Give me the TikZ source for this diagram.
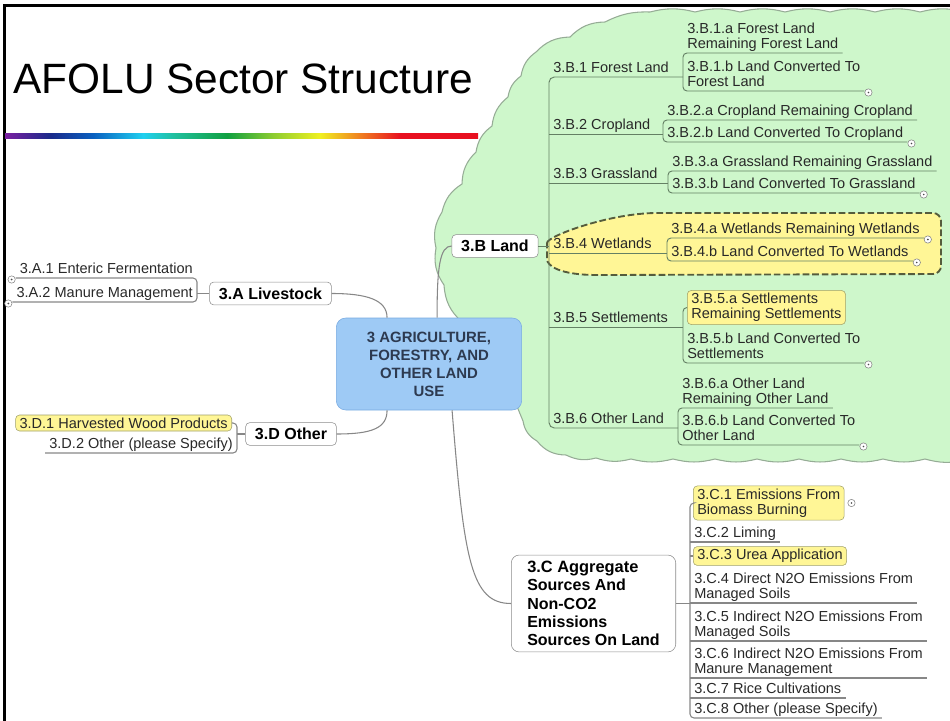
\documentclass[tikz,border=0pt]{standalone}
\usepackage{fontspec}
\setmainfont{Liberation Sans}
\usetikzlibrary{calc}

\definecolor{cloudgreen}{RGB}{206,247,203}
\definecolor{cloudline}{RGB}{150,172,150}
\definecolor{bline}{RGB}{100,128,100}
\definecolor{gline}{RGB}{135,135,135}
\definecolor{yel}{RGB}{255,246,150}
\definecolor{yelline}{RGB}{160,160,105}
\definecolor{dashline}{RGB}{85,92,60}
\definecolor{centreblue}{RGB}{158,202,245}
\definecolor{centreline}{RGB}{120,170,225}
\definecolor{centretext}{RGB}{45,58,80}
\definecolor{txt}{RGB}{40,40,40}
\definecolor{boxline}{RGB}{140,140,140}
% rainbow bar colours
\definecolor{rbpurple}{RGB}{122,31,160}
\definecolor{rbnavy}{RGB}{26,42,138}
\definecolor{rbblue}{RGB}{10,96,192}
\definecolor{rbcyan}{RGB}{32,208,240}
\definecolor{rbteal}{RGB}{32,192,160}
\definecolor{rbgreen}{RGB}{16,160,64}
\definecolor{rblime}{RGB}{140,204,48}
\definecolor{rbyellow}{RGB}{240,240,32}
\definecolor{rborange}{RGB}{240,128,32}
\definecolor{rbred}{RGB}{232,16,32}

\pgfdeclarehorizontalshading{rainbow}{100bp}{%
  color(0bp)=(rbpurple); color(25bp)=(rbpurple); color(29.8bp)=(rbnavy);
  color(34.3bp)=(rbblue); color(39.6bp)=(rbcyan); color(42.8bp)=(rbteal);
  color(48.5bp)=(rbgreen); color(53.3bp)=(rblime); color(58.3bp)=(rbyellow);
  color(62.5bp)=(rborange); color(66.8bp)=(rbred); color(100bp)=(rbred)}

\newcommand\mmleaf{\fontsize{10.9}{11.4}\selectfont}
\newcommand\mmtopic{\fontsize{12}{13.7}\selectfont\bfseries}
\newcommand\mmcentre{\fontsize{11.2}{13.5}\selectfont\bfseries}
\newcommand\mmtitle{\fontsize{31.8}{36}\selectfont}

\tikzset{
  leaf/.style={font=\mmleaf, text=txt, align=left, inner xsep=3pt, inner ysep=0.6pt, text depth=2.4pt},
  yelbox/.style={font=\mmleaf, text=txt, align=left, fill=yel, draw=yelline, rounded corners=3pt, inner xsep=3pt, inner ysep=2pt},
  topic/.style={draw=boxline, fill=white, rounded corners=3pt, font=\mmtopic, text=black, inner xsep=7pt, minimum height=17pt},
  centre/.style={fill=centreblue, draw=centreline, rounded corners=7pt, font=\mmcentre, text=centretext, align=center, minimum width=139pt, minimum height=69pt, inner sep=2pt},
  fold/.style={circle, draw=gray, fill=white, inner sep=0pt, minimum size=5.5pt, line width=0.4pt,
    path picture={\fill[gray!60!black] (path picture bounding box.center) circle (0.7pt);}},
  bconn/.style={draw=bline, line width=0.7pt},
  gconn/.style={draw=gline, line width=0.8pt}
}

\begin{document}
\begin{tikzpicture}[x=0.75pt, y=-0.75pt]
\useasboundingbox (0,0) rectangle (950,721);

% cloud behind the land branch
\filldraw[fill=cloudgreen, draw=cloudline, line width=0.8pt]
  (566,455) to[bend left=25] (537,441) to[bend left=25] (523,421) -- (516,404) -- (462,322)
  to[bend left=22] (444,285) to[bend left=22] (436,248) to[bend left=22] (442,212)
  to[bend left=22] (462,184) to[bend left=22] (476,152) to[bend left=22] (492,126)
  to[bend left=22] (508,97) to[bend left=22] (521,76) to[bend left=22] (536,52)
  to[bend left=22] (570,37) to[bend left=22] (605,22)
  \foreach \x in {650,695,...,965} { to[bend left=14] (\x,12) }
  -- (965,460)
  \foreach \x in {925,883,...,631} { to[bend left=14] (\x,459) }
  to[bend left=16] (596,458) to[bend left=20] (566,455) -- cycle;

% wetlands highlight
\filldraw[fill=yel, draw=dashline, line width=1.4pt, dash pattern=on 5pt off 2.2pt, rounded corners=6pt]
  (547,251) .. controls (547,236) and (610,213) .. (665,213)
  -- (941,213) -- (941,274) -- (605,275)
  .. controls (560,275) and (547,266) .. (547,251) -- cycle;

% slide title and frame
\draw[line width=1.9pt] (4.5,725) -- (4.5,5.3) -- (960,5.3);
\node[anchor=base west, font=\mmtitle, inner sep=0pt] (title) at (13,93) {AFOLU Sector Structure};
\shade[shading=rainbow] (5,133) rectangle (478,138.5);

% centre and main topics
\node[centre] (agri) at (429,364) {3 AGRICULTURE,\\FORESTRY, AND\\OTHER LAND\\USE};
\node[topic] (liv) at (270.5,293.5) {3.A Livestock};
\node[topic] (oth) at (291,434) {3.D Other};
\node[topic] (land) at (495,246) {3.B Land};
\node[topic, align=left, inner xsep=12pt, rounded corners=6pt, minimum height=72.7pt] (agg) at (593.5,603.5)
  {\fontsize{12.3}{13.7}\selectfont 3.C Aggregate\\Sources And\\Non-CO2\\Emissions\\Sources On Land};

% 3.A
\node[leaf, anchor=south east] (enteric) at (197,278) {3.A.1 Enteric Fermentation};
\node[leaf, anchor=south east] (manureMgmt) at (197,302) {3.A.2 Manure Management};

% 3.D
\node[yelbox, anchor=east] (wood) at (232,423) {3.D.1 Harvested Wood Products};
\node[leaf, anchor=south east] (otherPlease) at (237,453) {3.D.2 Other (please Specify)};

% 3.B
\node[leaf, anchor=south west] (forest) at (549,77) {3.B.1 Forest Land};
\node[leaf, anchor=south west] (forestA) at (683,53) {3.B.1.a Forest Land\\Remaining Forest Land};
\node[leaf, anchor=south west] (forestB) at (683,91) {3.B.1.b Land Converted To\\Forest Land};
\node[leaf, anchor=south west] (crop) at (549,134) {3.B.2 Cropland};
\node[leaf, anchor=south west] (cropA) at (663,120) {3.B.2.a Cropland Remaining Cropland};
\node[leaf, anchor=south west] (cropB) at (663,142) {3.B.2.b Land Converted To Cropland};
\node[leaf, anchor=south west] (grass) at (549,183) {3.B.3 Grassland};
\node[leaf, anchor=south west] (grassA) at (668,171) {3.B.3.a Grassland Remaining Grassland};
\node[leaf, anchor=south west] (grassB) at (668,193) {3.B.3.b Land Converted To Grassland};
\node[leaf, anchor=south west] (wet) at (549,253) {3.B.4 Wetlands};
\node[leaf, anchor=south west] (wetA) at (667,238) {3.B.4.a Wetlands Remaining Wetlands};
\node[leaf, anchor=south west] (wetB) at (667,261) {3.B.4.b Land Converted To Wetlands};
\node[leaf, anchor=south west] (settle) at (549,327) {3.B.5 Settlements};
\node[yelbox, anchor=west] (settleA) at (687,307.5) {3.B.5.a Settlements\\Remaining Settlements};
\node[leaf, anchor=south west] (settleB) at (683,363) {3.B.5.b Land Converted To\\Settlements};
\node[leaf, anchor=south west] (otherland) at (549,428) {3.B.6 Other Land};
\node[leaf, anchor=south west] (otherA) at (678,408) {3.B.6.a Other Land\\Remaining Other Land};
\node[leaf, anchor=south west] (otherB) at (678,445) {3.B.6.b Land Converted To\\Other Land};

% 3.C
\node[yelbox, anchor=west] (burning) at (693,503) {3.C.1 Emissions From\\Biomass Burning};
\node[leaf, anchor=south west] (liming) at (690,542) {3.C.2 Liming};
\node[yelbox, anchor=west] (urea) at (693,556) {3.C.3 Urea Application};
\node[leaf, anchor=south west] (directN) at (690,603) {3.C.4 Direct N2O Emissions From\\Managed Soils};
\node[leaf, anchor=south west] (indirectN) at (690,641) {3.C.5 Indirect N2O Emissions From\\Managed Soils};
\node[leaf, anchor=south west] (manureN) at (690,678) {3.C.6 Indirect N2O Emissions From\\Manure Management};
\node[leaf, anchor=south west] (rice) at (690,698) {3.C.7 Rice Cultivations};
\node[leaf, anchor=south west] (otherSpec) at (690,718) {3.C.8 Other (please Specify)};

% centre to topics
\draw[gconn] (liv.east) .. controls +(35,0) and +(0,-18) .. ($(agri.north west)+(51,0)$);
\draw[gconn] (oth.east) .. controls +(35,0) and +(0,18) .. ($(agri.south west)+(51,0)$);
\draw[gconn] ($(agri.north west)+(101,0)$) .. controls +(0,-50) and +(-12,0) .. (land.west);
\draw[gconn] ($(agri.south west)+(116,0)$) .. controls +(12,150) and +(-40,0) .. (agg.west);

% 3.A and 3.D brackets
\draw[gconn, rounded corners=3pt] (enteric.south west) -- (enteric.south east) -- (manureMgmt.south east) -- (manureMgmt.south west);
\draw[gconn] (liv.west) -- (liv.west -| enteric.south east);
\draw[gconn, rounded corners=3pt] (wood.east) -- (wood.east -| otherPlease.south east) -- (otherPlease.south east) -- (otherPlease.south west);
\draw[gconn] (oth.west) -- (oth.west -| otherPlease.south east);

% 3.B brackets
\draw[bconn, rounded corners=4pt] (forestA.south west |- forest.south) -- (forest.south west) -- (otherland.south west) -- (otherA.south west |- otherland.south);
\draw[bconn] (land.east) -- (land.east -| forest.south west);
\foreach \p/\c in {crop/cropA, grass/grassA, wet/wetA, settle/settleB}
  \draw[bconn] (\p.south west) -- (\p.south west -| \c.south west);
\foreach \a/\b in {forestA/forestB, cropA/cropB, grassA/grassB, wetA/wetB, otherA/otherB}
  \draw[bconn, rounded corners=3pt] (\a.south east) -- (\a.south west) -- (\b.south west) -- (\b.south east);
\draw[bconn, rounded corners=3pt] (settleA.west) -- (settleA.west -| settleB.south west) -- (settleB.south west) -- (settleB.south east);

% 3.C bracket
\draw[gconn, rounded corners=3pt] (burning.west) -- (burning.west -| liming.south west) -- (otherSpec.south west) -- (otherSpec.south east);
\draw[gconn] (agg.east) -- (agg.east -| liming.south west);
\foreach \n in {liming, directN, indirectN, manureN, rice}
  \draw[gconn] (\n.south west) -- (\n.south east);
\draw[gconn] (urea.west -| liming.south west) -- (urea.west);

% collapsed markers
\foreach \n in {forestB, cropB, grassB, wetA, wetB, settleB, otherB}
  \node[fold] (f-\n) at ($(\n.south east)+(4,1.5)$) {};
\foreach \n in {enteric, manureMgmt}
  \node[fold] (f-\n) at ($(\n.south west)+(-4,1.5)$) {};
\node[fold] (f-burning) at ($(burning.east)+(7,0)$) {};
\end{tikzpicture}
\end{document}
